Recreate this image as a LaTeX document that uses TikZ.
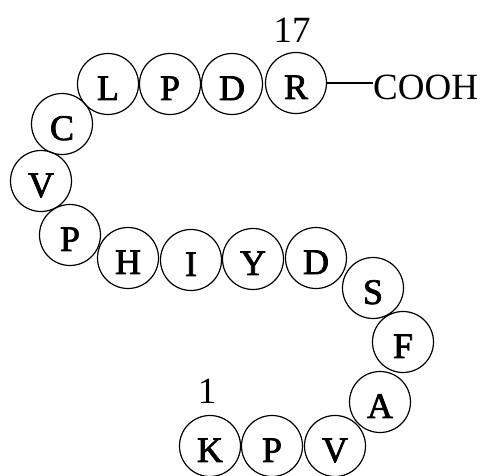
\documentclass[tikz,border=0pt]{standalone}
\usepackage{fontspec}
\setmainfont{Liberation Serif}
\newfontfamily\reslettfont[FakeBold=2]{Liberation Serif}
\begin{document}
\begin{tikzpicture}[x=1pt,y=-1pt,
  res/.style={circle,draw,line width=1.2pt,minimum size=61pt,inner sep=0pt,
    font=\reslettfont\fontsize{36}{38}\selectfont,text height=32pt,text depth=0pt},
  lab/.style={font=\fontsize{37}{40}\selectfont,inner sep=0pt},
  bond/.style={line width=1.2pt}]
\useasboundingbox (0,0) rectangle (483,476);
% N-terminus row
\node[res] (r1)  at (210,446) {K};
\node[res] (r2)  at (272,446) {P};
\node[res] (r3)  at (335,446) {V};
\node[res] (r4)  at (380,402) {A};
\node[res] (r5)  at (403,342) {F};
\node[res] (r6)  at (373,288) {S};
\node[res] (r7)  at (316,258) {D};
\node[res] (r8)  at (253,259) {Y};
\node[res] (r9)  at (191,260) {I};
\node[res] (r10) at (128,258) {H};
\node[res] (r11) at (70,235)  {P};
\node[res] (r12) at (41,181)  {V};
\node[res] (r13) at (62,124)  {C};
\node[res] (r14) at (108,84)  {L};
\node[res] (r15) at (170,84)  {P};
\node[res] (r16) at (232,84)  {D};
\node[res] (r17) at (296,83)  {R};
% labels
\node[lab] (n17) at (292,30) {17};
\node[lab] (n1)  at (207,391) {1};
\node[lab,anchor=west] (cooh) at (373,87) {COOH};
\draw[bond] (r17.east) -- (cooh.west |- r17.east);
\end{tikzpicture}
\end{document}
